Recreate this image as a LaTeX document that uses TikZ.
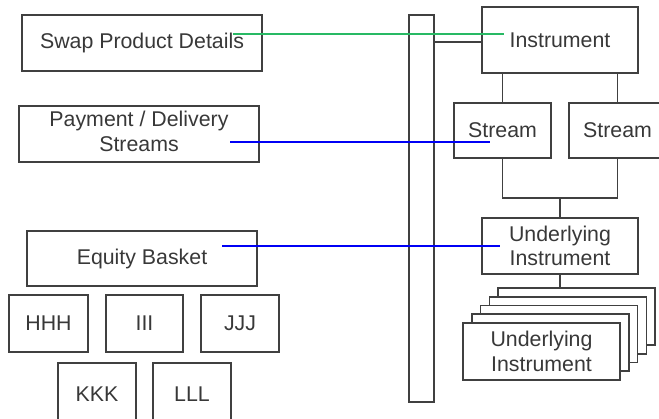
\documentclass[tikz,border=0pt]{standalone}
\usepackage{fontspec}
\setmainfont{Liberation Sans}
\begin{document}
\begin{tikzpicture}[x=0.75pt,y=-0.75pt,
  box/.style={draw=black!75, line width=1.2pt, rectangle, inner sep=0pt,
    text=black!78, font=\fontsize{16}{18.5}\selectfont, align=center},
  card/.style={box, fill=white, minimum width=117.75pt, minimum height=42.75pt},
  wire/.style={draw=black!75, line width=1.3pt},
  greenlink/.style={draw={rgb,255:red,40;green,185;blue,100}, line width=2.1pt},
  bluelink/.style={draw={rgb,255:red,0;green,0;blue,245}, line width=2.1pt}]
\clip (0,0) rectangle (659,418);

% left column
\node[box, minimum width=180pt, minimum height=42pt] (swap) at (142,43) {Swap Product Details};
\node[box, minimum width=180pt, minimum height=42pt] (pay) at (139,134)
  {\raisebox{2.5pt}{\begin{tabular}{@{}c@{}}Payment / Delivery\\Streams\end{tabular}}};
\node[box, minimum width=172.5pt, minimum height=41.25pt] (equity) at (142,258.5) {Equity Basket};
\node[box, minimum width=59.25pt, minimum height=42.75pt] (hhh) at (48.5,323.5) {HHH};
\node[box, minimum width=57.75pt, minimum height=42.75pt] (iii) at (144.5,323.5) {III};
\node[box, minimum width=58.5pt, minimum height=42.75pt] (jjj) at (240,323.5) {JJJ};
\node[box, minimum width=58.5pt, minimum height=46.5pt] (kkk) at (97,394) {KKK};
\node[box, minimum width=58.5pt, minimum height=46.5pt] (lll) at (192,394) {LLL};

% central bar
\node[box, minimum width=18.75pt, minimum height=290.25pt] (bar) at (421.5,208.5) {};

% right column
\node[box, minimum width=117pt, minimum height=49.5pt] (inst) at (560,40) {Instrument};
\node[box, minimum width=72.75pt, minimum height=41.25pt] (str1) at (502.5,130.5) {Stream};
\node[box, minimum width=72.75pt, minimum height=41.25pt] (str2) at (617.5,130.5) {Stream};
\node[box, minimum width=117pt, minimum height=42pt] (und) at (560,246) {Underlying\\Instrument};

% stack of underlying instruments
\node[card] (card4) at (576.7,316.5) {};
\node[card] (card3) at (567.9,325.25) {};
\node[card] (card2) at (559.1,334) {};
\node[card] (card1) at (550.3,342.75) {};
\node[card] (card0) at (541.5,351.5) {Underlying\\Instrument};

% tree connectors
\draw[wire] (bar.east |- 0,42) -- (inst.west |- 0,42);
\draw[wire] (str1.north) -- (str1.north |- inst.south);
\draw[wire] (str2.north) -- (str2.north |- inst.south);
\draw[wire] (str1.south) -- (str1.south |- 0,198) -- (str2.south |- 0,198) -- (str2.south);
\draw[wire] (und.north) -- (und.north |- 0,198);
\draw[wire] (und.south) -- (und.south |- card4.north);

% mapping links
\coordinate (g1) at (233,34);  \coordinate (g2) at (504,34);
\coordinate (b1) at (230,142); \coordinate (b2) at (490,142);
\coordinate (c1) at (222,246); \coordinate (c2) at (500,246);
\draw[greenlink] (g1) -- (g2);
\draw[bluelink] (b1) -- (b2);
\draw[bluelink] (c1) -- (c2);
\end{tikzpicture}
\end{document}
